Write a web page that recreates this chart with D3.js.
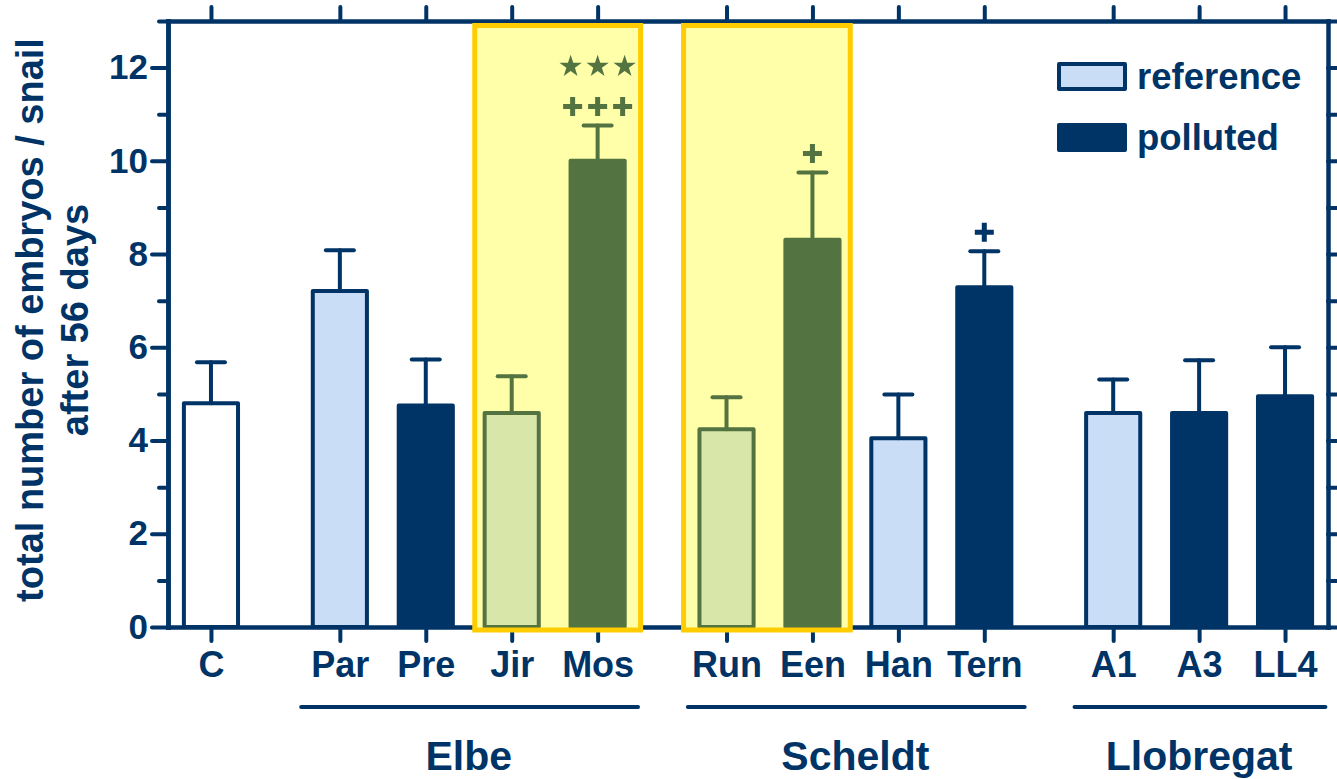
<!DOCTYPE html>
<html><head><meta charset="utf-8">
<script src="https://cdn.jsdelivr.net/npm/d3@7"></script>
<style>
html,body{margin:0;padding:0;background:#fff;}
svg{display:block;}
text{font-family:"Liberation Sans",Arial,sans-serif;font-weight:bold;fill:#003366;}
</style></head><body>
<svg id="chart" width="1337" height="779"></svg>
<script>
// Sites, grouped by river ("" = laboratory control)
const categories = ["C","Par","Pre","Jir","Mos","Run","Een","Han","Tern","A1","A3","LL4"];
const rivers = ["","Elbe","Elbe","Elbe","Elbe","Scheldt","Scheldt","Scheldt","Scheldt","Llobregat","Llobregat","Llobregat"];
const siteTypes = ["control","reference","polluted","reference","polluted","reference","polluted","reference","polluted","reference","polluted","polluted"];
// Mean embryos per snail after 56 days and upper error (SE)
const meanEmbryos = [4.80,7.21,4.75,4.59,10.00,4.24,8.31,4.05,7.29,4.59,4.59,4.95];
const errEmbryos  = [0.88,0.87,0.99,0.79,0.76,0.69,1.44,0.94,0.77,0.72,1.13,1.05];
// Significance marks: stars vs. control, crosses vs. reference site
const starMarks = [0,0,0,0,3,0,0,0,0,0,0,0];
const plusMarks = [0,0,0,0,3,0,1,0,1,0,0,0];
// Highlighted site pairs
const highlightSpans = [["Jir","Mos"],["Run","Een"]];
const yTicks = [0,2,4,6,8,10,12];
const yMinorTicks = [1,3,5,7,9,11,13];
const legendLabels = ["reference","polluted"];
const yTitle = ["total number of embryos / snail","after 56 days"];

const C = {
  navy:"#003366", lightBlue:"#C9DDF6", green:"#537340", lightGreen:"#D9E6A9",
  yellow:"#FFFFA9", gold:"#FFCC00"
};

const svg = d3.select("#chart");
const riverOrder = Array.from(new Set(rivers));
const pos = categories.map((c,i) => i + 0.5*riverOrder.indexOf(rivers[i]));
const posOf = name => pos[categories.indexOf(name)];

const x = d3.scaleLinear().domain([-0.5, 13]).range([168, 1328]);
const y = d3.scaleLinear().domain([0, 13]).range([627, 21]);

const isHi = i => highlightSpans.some(([a,b]) => pos[i] >= posOf(a) && pos[i] <= posOf(b));
const fillOf = i => isHi(i) ? (siteTypes[i]==="polluted" ? C.green : C.lightGreen)
  : siteTypes[i]==="control" ? "#ffffff" : siteTypes[i]==="reference" ? C.lightBlue : C.navy;
const strokeOf = i => isHi(i) ? C.green : C.navy;

function styleAxis(g, fontSize){
  g.select(".domain").attr("stroke", C.navy).attr("stroke-width", 4.5).attr("stroke-linecap","square");
  g.selectAll(".tick line").attr("stroke", C.navy).attr("stroke-width", 4).attr("stroke-linecap","round");
  g.selectAll(".tick text").attr("fill", C.navy).style("font-size", fontSize+"px").attr("font-family", null);
  g.attr("font-family", null).attr("font-size", null);
}

// Axes frame
svg.append("g").attr("transform",`translate(${x.range()[0]},0)`)
  .call(d3.axisLeft(y).tickValues(yMinorTicks).tickSize(9).tickSizeOuter(0).tickFormat(""))
  .call(g => styleAxis(g, 35));
svg.append("g").attr("transform",`translate(${x.range()[0]},0)`)
  .call(d3.axisLeft(y).tickValues(yTicks).tickSize(16).tickPadding(4).tickSizeOuter(0).tickFormat(d3.format("d")))
  .call(g => styleAxis(g, 35));
svg.append("g").attr("transform",`translate(${x.range()[1]},0)`)
  .call(d3.axisRight(y).tickValues(d3.range(0,14)).tickSize(9).tickSizeOuter(0).tickFormat(""))
  .call(g => styleAxis(g, 35));
svg.append("g").attr("transform",`translate(0,${y.range()[1]})`)
  .call(d3.axisTop(x).tickValues(pos).tickSize(14).tickSizeOuter(0).tickFormat(""))
  .call(g => styleAxis(g, 35));
svg.append("g").attr("transform",`translate(0,${y.range()[0]})`)
  .call(d3.axisBottom(x).tickValues(pos).tickSize(14).tickPadding(10).tickSizeOuter(0)
        .tickFormat((d,i) => categories[i]))
  .call(g => styleAxis(g, 36));

// Highlight boxes: fill under bars, border over them
const boxPad = [[0.43,0.5],[0.5,0.44]];
const boxes = highlightSpans.map(([a,b],k) => ({
  x0: x(posOf(a) - boxPad[k][0]), x1: x(posOf(b) + boxPad[k][1]),
  y0: y(13) + 4.5, y1: y(0) + 3
}));
svg.append("g").selectAll("rect").data(boxes).join("rect")
  .attr("x", d => d.x0).attr("y", d => d.y0)
  .attr("width", d => d.x1 - d.x0).attr("height", d => d.y1 - d.y0)
  .attr("fill", C.yellow);

// Bars
const bw = x(0.63) - x(0);
const idx = d3.range(categories.length);
svg.append("g").selectAll("rect").data(idx).join("rect")
  .attr("x", i => x(pos[i]) - bw/2).attr("y", i => y(meanEmbryos[i]))
  .attr("width", bw).attr("height", i => y(0) - y(meanEmbryos[i]))
  .attr("fill", fillOf).attr("stroke", strokeOf).attr("stroke-width", 4)
  .attr("stroke-linejoin","round");

svg.append("g").selectAll("rect").data(boxes).join("rect")
  .attr("x", d => d.x0).attr("y", d => d.y0)
  .attr("width", d => d.x1 - d.x0).attr("height", d => d.y1 - d.y0)
  .attr("fill", "none").attr("stroke", C.gold).attr("stroke-width", 5);

// Error bars (upper)
const eb = svg.append("g").attr("stroke-width", 4).attr("stroke-linecap","round");
idx.forEach(i => {
  const cx = x(pos[i]), top = y(meanEmbryos[i] + errEmbryos[i]);
  eb.append("line").attr("x1",cx).attr("x2",cx).attr("y1",y(meanEmbryos[i])).attr("y2",top).attr("stroke",strokeOf(i));
  eb.append("line").attr("x1",cx-14).attr("x2",cx+14).attr("y1",top).attr("y2",top).attr("stroke",strokeOf(i));
});

// Significance marks
const marks = svg.append("g");
const starPath = d3.symbol(d3.symbolStar, 155)();
idx.forEach(i => {
  const cx = x(pos[i]);
  const col = isHi(i) ? C.green : C.navy;
  const plusY = y(meanEmbryos[i] + errEmbryos[i]) - 19;
  for (let k = 0; k < plusMarks[i]; k++) {
    const px = cx + (k - (plusMarks[i]-1)/2) * 25;
    marks.append("path")
      .attr("d", `M${px-9.5},${plusY}H${px+9.5}M${px},${plusY-9.5}V${plusY+9.5}`)
      .attr("stroke", col).attr("stroke-width", 5).attr("fill","none");
  }
  const starY = plusY - 40;
  for (let k = 0; k < starMarks[i]; k++) {
    const sx = cx + (k - (starMarks[i]-1)/2) * 27;
    marks.append("path").attr("d", starPath)
      .attr("transform", `translate(${sx},${starY})`).attr("fill", col);
  }
});

// Legend
const legend = svg.append("g");
legendLabels.forEach((lab, k) => {
  const ly = 64 + k*61;
  legend.append("rect").attr("x",1059).attr("y",ly).attr("width",66).attr("height",25)
    .attr("fill", k===0 ? C.lightBlue : C.navy).attr("stroke", C.navy).attr("stroke-width",4)
    .attr("stroke-linejoin","round");
  legend.append("text").attr("x",1137).attr("y",ly+25).style("font-size","36.5px").text(lab);
});

// River groups below the category labels
const riverGroups = riverOrder.filter(r => r !== "").map(r => {
  const ps = pos.filter((p,i) => rivers[i] === r);
  return {name:r, a:d3.min(ps), b:d3.max(ps)};
});
const rg = svg.append("g");
rg.selectAll("line").data(riverGroups).join("line")
  .attr("x1", d => x(d.a - 0.45)).attr("x2", d => x(d.b + 0.47))
  .attr("y1", 707).attr("y2", 707)
  .attr("stroke", C.navy).attr("stroke-width", 4).attr("stroke-linecap","round");
rg.selectAll("text").data(riverGroups).join("text")
  .attr("x", d => (x(d.a) + x(d.b))/2).attr("y", 770)
  .attr("text-anchor","middle").style("font-size","41px").text(d => d.name);

// Y axis title
yTitle.forEach((t, k) => {
  svg.append("text")
    .attr("transform", `translate(${43 + k*45},320) rotate(-90)`)
    .attr("text-anchor","middle").style("font-size","38px").text(t);
});
</script>
</body></html>
